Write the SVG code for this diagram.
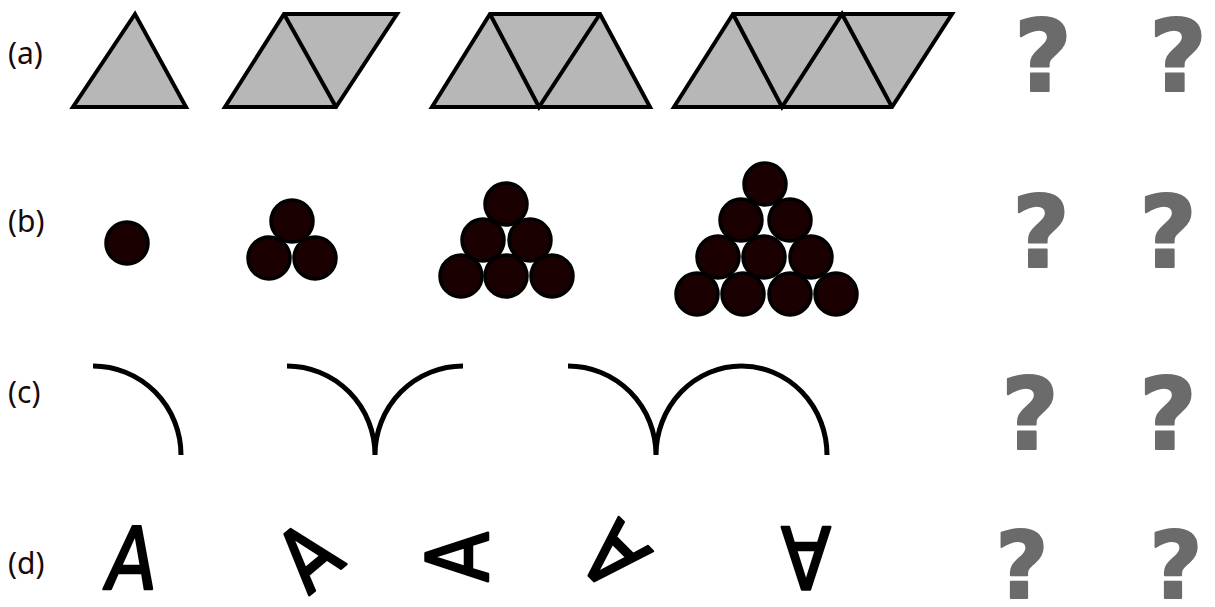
<svg xmlns="http://www.w3.org/2000/svg" width="1215" height="607" viewBox="0 0 1215 607">
<style>
.lbl{font-family:"Noto Sans","DejaVu Sans",sans-serif;font-size:30px;fill:#1a0a0a}
.tri{fill:#b7b7b7;stroke:#000;stroke-width:4;stroke-linejoin:miter}
.edge{fill:none;stroke:#000;stroke-width:4}
.ball{fill:#1a0000;stroke:#000;stroke-width:3.5}
.arc{fill:none;stroke:#000;stroke-width:5}
.q{font-family:"DejaVu Sans",sans-serif;font-weight:bold;font-size:100px;fill:#6b6b6b;text-anchor:middle;stroke:#6b6b6b;stroke-width:2;stroke-linejoin:round}
.qd{font-size:92px}
.a{font-family:"DejaVu Sans",sans-serif;font-size:86px;fill:#000;text-anchor:middle;stroke:#000;stroke-width:2.5;stroke-linejoin:round}
</style>
<rect width="1215" height="607" fill="#fff"/>
<g id="labels">
<text class="lbl" x="8" y="64">(a)</text>
<text class="lbl" x="8" y="232">(b)</text>
<text class="lbl" x="8" y="403">(c)</text>
<text class="lbl" x="8" y="574">(d)</text>
</g>
<g id="row-a">
<g id="a1"><polygon class="tri" points="135,14 73,107 186,107"/></g>
<g id="a2"><polygon class="tri" points="225,107 284,14 397,14 336,107"/><line class="edge" x1="284" y1="14" x2="336" y2="107"/></g>
<g id="a3"><polygon class="tri" points="432,107 490,14 600,14 650,107"/><polyline class="edge" points="490,14 539,107 600,14"/></g>
<g id="a4"><polygon class="tri" points="674,107 733,14 952,14 892,107"/><polyline class="edge" points="733,14 782,107 842,14 892,107"/></g>
</g>
<g id="row-b">
<g id="b1"><circle class="ball" cx="127" cy="243" r="21"/></g>
<g id="b2"><circle class="ball" cx="292" cy="221" r="21"/><circle class="ball" cx="269" cy="258" r="21"/><circle class="ball" cx="315" cy="258" r="21"/></g>
<g id="b3"><circle class="ball" cx="506" cy="204" r="21"/><circle class="ball" cx="483" cy="240" r="21"/><circle class="ball" cx="530" cy="240" r="21"/><circle class="ball" cx="461" cy="276" r="21"/><circle class="ball" cx="506" cy="276" r="21"/><circle class="ball" cx="552" cy="276" r="21"/></g>
<g id="b4"><circle class="ball" cx="765" cy="184" r="21"/><circle class="ball" cx="741" cy="220" r="21"/><circle class="ball" cx="790" cy="220" r="21"/><circle class="ball" cx="718" cy="257" r="21"/><circle class="ball" cx="764" cy="257" r="21"/><circle class="ball" cx="811" cy="257" r="21"/><circle class="ball" cx="697" cy="294" r="21"/><circle class="ball" cx="743" cy="294" r="21"/><circle class="ball" cx="790" cy="294" r="21"/><circle class="ball" cx="836" cy="294" r="21"/></g>
</g>
<g id="row-c">
<g id="c1"><path class="arc" d="M93,366 A88,89 0 0 1 181,455"/></g>
<g id="c2"><path class="arc" d="M287,366 A88,89 0 0 1 375,455 A88,89 0 0 1 463,366"/></g>
<g id="c3"><path class="arc" d="M568,366 A88,89 0 0 1 656,455 A85.5,89 0 0 1 827,455"/></g>
</g>
<g id="row-d">
<g id="d1" transform="translate(132,558) skewX(-8) scale(0.85,1)"><text class="a" x="0" y="31">A</text></g>
<g id="d2" transform="translate(308,556) rotate(-40) scale(0.85,1)"><text class="a" x="0" y="31">A</text></g>
<g id="d3" transform="translate(457,557) rotate(-90) scale(0.85,1)"><text class="a" x="0" y="31">A</text></g>
<g id="d4" transform="translate(614,556) rotate(-135) scale(0.85,1)"><text class="a" x="0" y="31">A</text></g>
<g id="d5" transform="translate(806,558) rotate(180) scale(0.85,1)"><text class="a" x="0" y="31">A</text></g>
</g>
<g id="questions">
<text class="q" x="1043" y="91">?</text>
<text class="q" x="1178" y="91">?</text>
<text class="q" x="1041" y="267">?</text>
<text class="q" x="1168" y="267">?</text>
<text class="q" x="1030" y="449">?</text>
<text class="q" x="1168" y="449">?</text>
<text class="q qd" x="1022" y="598">?</text>
<text class="q qd" x="1176" y="598">?</text>
</g>
</svg>
